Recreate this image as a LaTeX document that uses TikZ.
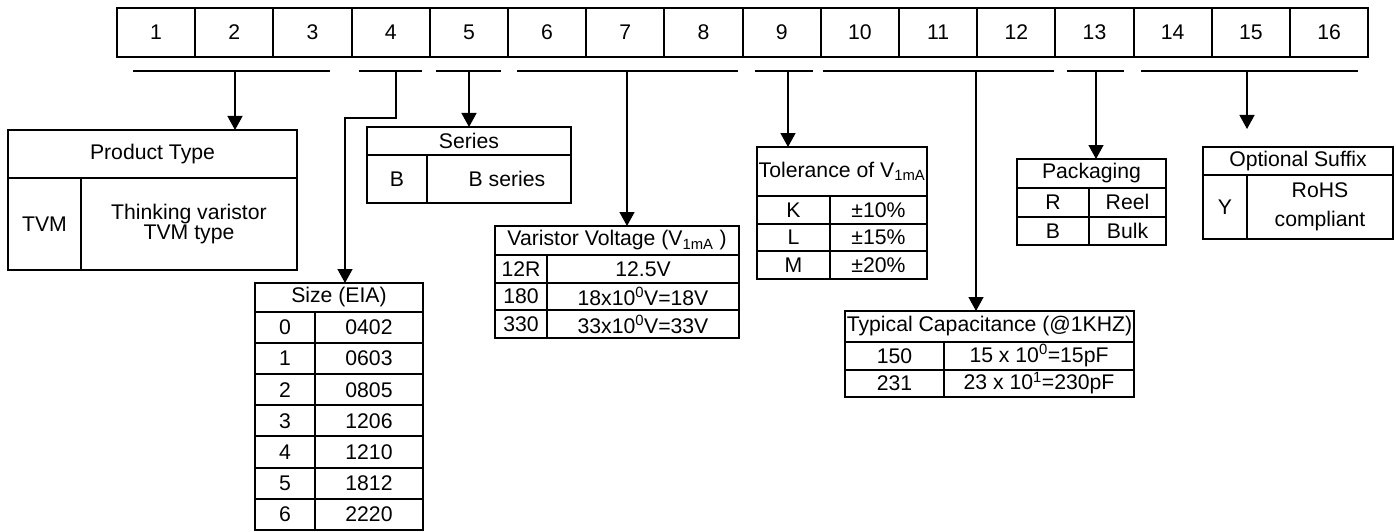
\documentclass[tikz,border=0pt]{standalone}
\usepackage{fontspec}
\setmainfont{Liberation Sans}
\usepackage{tikz}
\usetikzlibrary{arrows.meta}

\begin{document}
\begin{tikzpicture}[x=1pt, y=-1pt, ->, >={Triangle[width=15pt,length=14pt]}, line width=1.4pt,
  cell/.style={draw, -, line width=2pt, inner sep=0pt, outer sep=0pt, align=center,
    font=\fontsize{21.2}{19.5}\selectfont},
  cellbox/.style 2 args={cell, minimum width=#1pt, minimum height=#2pt},
  digit/.style={cellbox={78.2}{49}}]

  \useasboundingbox (0,0) rectangle (1396,532);

  % The code positions
  \node [digit] at (156.1,32.5) (d1) {1};
  \node [digit] at (234.3,32.5) (d2) {2};
  \node [digit] at (312.5,32.5) (d3) {3};
  \node [digit] at (390.7,32.5) (d4) {4};
  \node [digit] at (468.9,32.5) (d5) {5};
  \node [digit] at (547.1,32.5) (d6) {6};
  \node [digit] at (625.3,32.5) (d7) {7};
  \node [digit] at (703.5,32.5) (d8) {8};
  \node [digit] at (781.7,32.5) (d9) {9};
  \node [digit] at (859.9,32.5) (d10) {10};
  \node [digit] at (938.1,32.5) (d11) {11};
  \node [digit] at (1016.3,32.5) (d12) {12};
  \node [digit] at (1094.5,32.5) (d13) {13};
  \node [digit] at (1172.7,32.5) (d14) {14};
  \node [digit] at (1250.9,32.5) (d15) {15};
  \node [digit] at (1329.1,32.5) (d16) {16};

  % Group underlines
  \coordinate (g1a) at (133,71);  \coordinate (g1b) at (330,71);  \coordinate (t1) at (235,71);
  \coordinate (g4a) at (359,71);  \coordinate (g4b) at (422,71);  \coordinate (t4) at (396,71);
  \coordinate (g5a) at (436,71);  \coordinate (g5b) at (501,71);  \coordinate (t5) at (469,71);
  \coordinate (g6a) at (517,71);  \coordinate (g6b) at (738,71);  \coordinate (t6) at (627,71);
  \coordinate (g9a) at (755,71);  \coordinate (g9b) at (813,71);  \coordinate (t9) at (788,71);
  \coordinate (g10a) at (823,71); \coordinate (g10b) at (1054,71); \coordinate (t10) at (976,71);
  \coordinate (g13a) at (1067,71); \coordinate (g13b) at (1124,71); \coordinate (t13) at (1096,71);
  \coordinate (g14a) at (1141,71); \coordinate (g14b) at (1358,71); \coordinate (t14) at (1247,71);
  \coordinate (k4) at (345,118);

  \path[-]
  (g1a) edge (g1b)
  (g4a) edge (g4b)
  (g5a) edge (g5b)
  (g6a) edge (g6b)
  (g9a) edge (g9b)
  (g10a) edge (g10b)
  (g13a) edge (g13b)
  (g14a) edge (g14b);

  % Product type
  \node [cellbox={289}{48}] at (152.5,154) (ptHead) {Product Type};
  \node [cellbox={73}{92}] at (44.5,224) (ptCode) {TVM};
  \node [cellbox={216}{92}] at (189,224) (ptText) {Thinking varistor\\TVM type};

  % Series
  \node [cellbox={204}{28}] at (469,141) (srHead) {Series};
  \node [cellbox={60}{48}] at (397,179) (srCode) {B};
  \node [cellbox={144}{48}] at (499,179) (srText) {\hspace*{16pt}B series};

  % Size
  \node [cellbox={168}{29}] at (339,297.5) (szHead) {Size (EIA)};
  \node [cellbox={60}{31.1}] at (285,327.55) (sz0) {0};
  \node [cellbox={108}{31.1}] at (369,327.55) (szv0) {0402};
  \node [cellbox={60}{31.1}] at (285,358.65) (sz1) {1};
  \node [cellbox={108}{31.1}] at (369,358.65) (szv1) {0603};
  \node [cellbox={60}{31.1}] at (285,389.75) (sz2) {2};
  \node [cellbox={108}{31.1}] at (369,389.75) (szv2) {0805};
  \node [cellbox={60}{31.1}] at (285,420.85) (sz3) {3};
  \node [cellbox={108}{31.1}] at (369,420.85) (szv3) {1206};
  \node [cellbox={60}{31.1}] at (285,451.95) (sz4) {4};
  \node [cellbox={108}{31.1}] at (369,451.95) (szv4) {1210};
  \node [cellbox={60}{31.1}] at (285,483.05) (sz5) {5};
  \node [cellbox={108}{31.1}] at (369,483.05) (szv5) {1812};
  \node [cellbox={60}{31.1}] at (285,514.15) (sz6) {6};
  \node [cellbox={108}{31.1}] at (369,514.15) (szv6) {2220};

  % Varistor voltage
  \node [cellbox={244}{29}] at (617,240.5) (vvHead) {Varistor Voltage (V\textsubscript{1mA} )};
  \node [cellbox={52}{27.7}] at (521,268.8) (vv1) {12R};
  \node [cellbox={192}{27.7}] at (643,268.8) (vvv1) {12.5V};
  \node [cellbox={52}{27.7}] at (521,296.5) (vv2) {180};
  \node [cellbox={192}{27.7}] at (643,296.5) (vvv2) {18x10\textsuperscript{0}V=18V};
  \node [cellbox={52}{27.7}] at (521,324.2) (vv3) {330};
  \node [cellbox={192}{27.7}] at (643,324.2) (vvv3) {33x10\textsuperscript{0}V=33V};

  % Tolerance
  \node [cellbox={170}{49}] at (842,171.5) (tlHead) {Tolerance of V\textsubscript{1mA}};
  \node [cellbox={73}{27.7}] at (793.5,209.8) (tl1) {K};
  \node [cellbox={97}{27.7}] at (878.5,209.8) (tlv1) {±10\%};
  \node [cellbox={73}{27.7}] at (793.5,237.5) (tl2) {L};
  \node [cellbox={97}{27.7}] at (878.5,237.5) (tlv2) {±15\%};
  \node [cellbox={73}{27.7}] at (793.5,265.2) (tl3) {M};
  \node [cellbox={97}{27.7}] at (878.5,265.2) (tlv3) {±20\%};

  % Capacitance
  \node [cellbox={289}{31}] at (989.5,326.5) (cpHead) {Typical Capacitance (@1KHZ)};
  \node [cellbox={99}{27.5}] at (894.5,355.75) (cp1) {150};
  \node [cellbox={190}{27.5}] at (1039,355.75) (cpv1) {15 x 10\textsuperscript{0}=15pF};
  \node [cellbox={99}{27.5}] at (894.5,383.25) (cp2) {231};
  \node [cellbox={190}{27.5}] at (1039,383.25) (cpv2) {23 x 10\textsuperscript{1}=230pF};

  % Packaging
  \node [cellbox={149}{29}] at (1091.5,173.5) (pkHead) {Packaging};
  \node [cellbox={72}{28.5}] at (1053,202.25) (pk1) {R};
  \node [cellbox={77}{28.5}] at (1127.5,202.25) (pkv1) {Reel};
  \node [cellbox={72}{28.5}] at (1053,230.75) (pk2) {B};
  \node [cellbox={77}{28.5}] at (1127.5,230.75) (pkv2) {Bulk};

  % Optional suffix
  \node [cellbox={190}{28}] at (1298,161) (sfHead) {Optional Suffix};
  \node [cellbox={44}{64}] at (1225,207) (sfCode) {Y};
  \node [cellbox={146}{64}] at (1320,207) (sfText) {RoHS\\[10pt]compliant};

  % Arrows
  \path[->]
  (t1) edge (t1 |- ptHead.north)
  (t5) edge (t5 |- srHead.north)
  (t6) edge (t6 |- vvHead.north)
  (t9) edge (t9 |- tlHead.north)
  (t10) edge (t10 |- cpHead.north)
  (t13) edge (t13 |- pkHead.north);

  \draw[->] (t4) |- (k4) -- (k4 |- szHead.north);
  \draw[->, shorten >=18pt] (t14) -- (t14 |- sfHead.north);

\end{tikzpicture}
\end{document}
